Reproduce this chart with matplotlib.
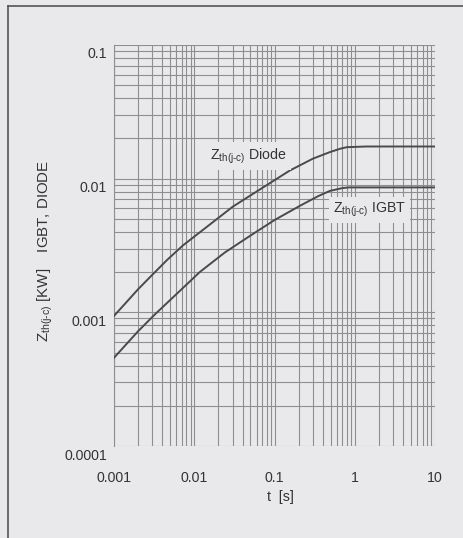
import matplotlib
matplotlib.use("Agg")
import matplotlib.pyplot as plt
import matplotlib.transforms as mtransforms
from matplotlib.ticker import LogLocator, NullFormatter, FixedLocator, FixedFormatter

plt.rcParams['font.family'] = ['Liberation Sans', 'DejaVu Sans']
plt.rcParams['mathtext.fontset'] = 'custom'
plt.rcParams['mathtext.rm'] = 'Liberation Sans'

# Data
diode_t = [0.001, 0.002, 0.0028, 0.00457, 0.0072, 0.015, 0.0303, 0.07, 0.155, 0.30, 0.49, 0.66, 0.8, 1.4, 10.0]
diode_z = [0.00094, 0.00149, 0.00183, 0.00246, 0.00316, 0.00445, 0.00618, 0.0085, 0.0115, 0.0141, 0.0158, 0.01675, 0.0172, 0.0174, 0.0174]
igbt_t = [0.001, 0.002, 0.00324, 0.00697, 0.0117, 0.024, 0.0494, 0.1, 0.207, 0.35, 0.49, 0.7, 0.86, 2.0, 10.0]
igbt_z = [0.000457, 0.000723, 0.000966, 0.00149, 0.0020, 0.0028, 0.00373, 0.0049, 0.00626, 0.0074, 0.0081, 0.0085, 0.0086, 0.0086, 0.0086]
x_ticks = [0.001, 0.01, 0.1, 1, 10]
x_labels = ['0.001', '0.01', '0.1', '1', '10']
y_ticks = [0.0001, 0.001, 0.01, 0.1]
y_labels = ['0.0001', '0.001', '0.01', '0.1']

bg = '#e9e9ec'
grid_c = '#8e8e8e'
curve_c = '#4a4a4a'
txt_c = '#333333'
fs = 10.2

fig = plt.figure(figsize=(4.64, 5.38), dpi=100, facecolor=bg)
ax = fig.add_axes([0.2457, 0.1710, 0.6918, 0.7454])
ax.set_facecolor(bg)
ax.set_xscale('log')
ax.set_yscale('log')
ax.set_xlim(0.001, 10)
ax.set_ylim(0.0001, 0.1)

ax.xaxis.set_major_locator(FixedLocator(x_ticks))
ax.xaxis.set_major_formatter(FixedFormatter(x_labels))
ax.yaxis.set_major_locator(FixedLocator(y_ticks))
ax.yaxis.set_major_formatter(FixedFormatter(y_labels))
ax.xaxis.set_minor_locator(LogLocator(base=10, subs=range(2, 10)))
ax.yaxis.set_minor_locator(LogLocator(base=10, subs=range(2, 10)))
ax.xaxis.set_minor_formatter(NullFormatter())
ax.yaxis.set_minor_formatter(NullFormatter())

ax.grid(True, which='both', color=grid_c, linewidth=0.8)
ax.tick_params(which='both', length=0, labelsize=fs, colors=txt_c, pad=5)
for s in ax.spines.values():
    s.set_color(grid_c)
    s.set_linewidth(0.8)
ax.spines['top'].set_visible(False)
ax.spines['right'].set_visible(False)
ax.spines['bottom'].set_visible(False)

# offsets as in the printed sheet
off_x = mtransforms.ScaledTranslation(6/100, 0, fig.dpi_scale_trans)
for lab in ax.get_xticklabels():
    lab.set_transform(lab.get_transform() + off_x)
off_y = mtransforms.ScaledTranslation(0, -8/100, fig.dpi_scale_trans)
for lab in ax.get_yticklabels():
    lab.set_transform(lab.get_transform() + off_y)
ax.tick_params(axis='x', pad=18)

ax.plot(diode_t, diode_z, color=curve_c, linewidth=1.4, zorder=3)
ax.plot(igbt_t, igbt_z, color=curve_c, linewidth=1.4, zorder=3)

sub = r'Z$_{\mathrm{th(j\text{-}c)}}$'
ax.text(210/464, 1-156/538, sub + ' Diode', fontsize=fs, color=txt_c,
        va='center', ha='left', zorder=4, transform=fig.transFigure,
        bbox=dict(boxstyle='square,pad=0.3', facecolor=bg, edgecolor='none'))
ax.text(333/464, 1-210/538, sub + ' IGBT', fontsize=fs, color=txt_c,
        va='center', ha='left', zorder=4, transform=fig.transFigure,
        bbox=dict(boxstyle='square,pad=0.3', facecolor=bg, edgecolor='none'))

fig.text(280/464, 1-497/538, 't  [s]', fontsize=fs, color=txt_c, ha='center', va='center')
fig.text(45/464, 1-251/538, sub + ' [KW]    IGBT, DIODE', rotation=90,
         fontsize=10.8, color=txt_c, ha='center', va='center')

# outer frame lines (top and left)
fig.add_artist(plt.Line2D([8/464, 1.0], [1-5.5/538, 1-5.5/538], transform=fig.transFigure,
                          color='#555555', linewidth=1.2))
fig.add_artist(plt.Line2D([8/464, 8/464], [0.0, 1-5.5/538], transform=fig.transFigure,
                          color='#555555', linewidth=1.2))

fig.savefig('out.png', dpi=100, facecolor=bg)
